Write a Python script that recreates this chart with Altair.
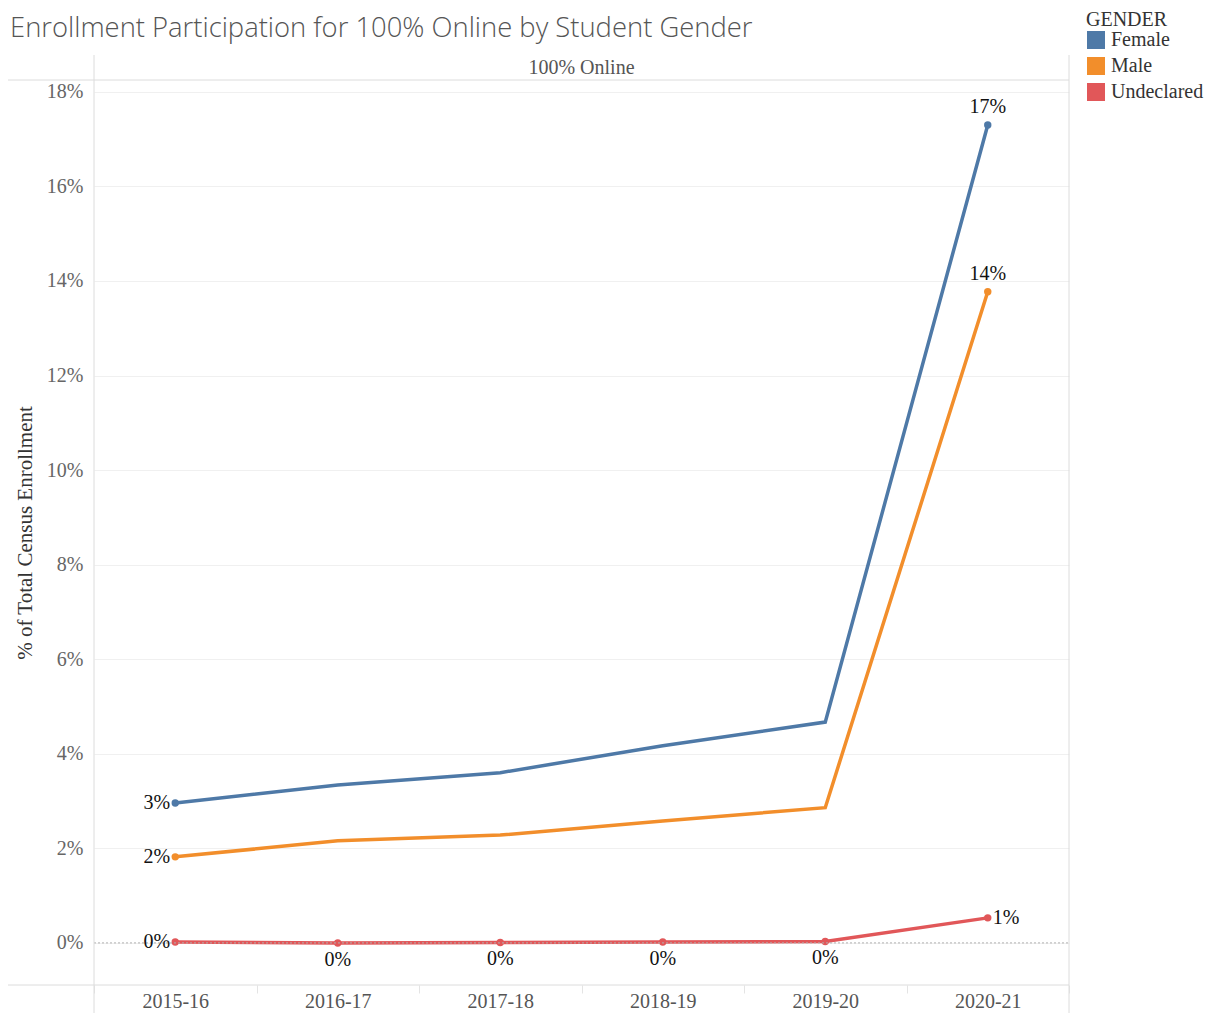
import altair as alt
import pandas as pd

# ---- data ----
years = ["2015-16", "2016-17", "2017-18", "2018-19", "2019-20", "2020-21"]
genders = ["Female", "Male", "Undeclared"]
female = [0.0296, 0.0334, 0.0360, 0.0417, 0.0467, 0.1730]
male = [0.0182, 0.0216, 0.0228, 0.0258, 0.0286, 0.1377]
undeclared = [0.0002, 0.0000, 0.0001, 0.0002, 0.0003, 0.0053]
colors = ["#4e79a7", "#f28e2b", "#e15759"]
panel = ["100% Online"]

# which points carry a mark label, and on which side
label_gender = ["Female", "Female", "Male", "Male", "Undeclared", "Undeclared",
                "Undeclared", "Undeclared", "Undeclared", "Undeclared"]
label_year = ["2015-16", "2020-21", "2015-16", "2020-21", "2015-16", "2016-17",
              "2017-18", "2018-19", "2019-20", "2020-21"]
label_side = ["left", "top", "left", "top", "left", "below", "below", "below",
              "below", "right"]

rows = []
for g, series in zip(genders, [female, male, undeclared]):
    for y, v in zip(years, series):
        rows.append({"Year": y, "Gender": g, "Value": v})
df = pd.DataFrame(rows)

lab = pd.DataFrame({"Gender": label_gender, "Year": label_year, "Side": label_side})
lab = lab.merge(df, on=["Gender", "Year"])

SERIF = "Liberation Serif"
W, H = 975, 905

xscale = alt.Scale(type="band", domain=years, paddingInner=0, paddingOuter=0)
yscale = alt.Scale(domain=[-0.0089, 0.1825], nice=False, zero=False)
cscale = alt.Scale(domain=genders, range=colors)

x_enc = alt.X("Year:N", scale=xscale, sort=years,
              axis=alt.Axis(title=None, labelAngle=0, domain=False, ticks=True,
                            tickBand="extent", tickSize=8, tickColor="#e4e4e4",
                            labelPadding=-2, labelFont=SERIF, labelFontSize=20,
                            labelColor="#555", grid=False))
y_enc = alt.Y("Value:Q", scale=yscale,
              axis=alt.Axis(title="% of Total Census Enrollment", format=".0%",
                            values=[0, 0.02, 0.04, 0.06, 0.08, 0.10, 0.12, 0.14, 0.16, 0.18],
                            domain=False, ticks=False, grid=True, gridColor="#f0f0f0",
                            labelPadding=11, labelFont=SERIF, labelFontSize=20,
                            labelColor="#666", titleFont=SERIF, titleFontSize=21,
                            titleFontWeight="normal", titleColor="#333",
                            titleX=-69, titleY=H / 2, titleAngle=-90,
                            titleAlign="center", titleBaseline="middle"))

legend = alt.Legend(title="GENDER", orient="none", legendX=992, legendY=-70,
                    symbolType="square", symbolSize=324, symbolStrokeWidth=0,
                    symbolOpacity=1, titleFont=SERIF, titleFontSize=20,
                    titleFontWeight="normal", titleColor="#333", titlePadding=0,
                    labelFont=SERIF, labelFontSize=20, labelColor="#333",
                    rowPadding=6, labelOffset=5)

points = alt.Chart(lab).mark_point(filled=True, size=55, opacity=1).encode(
    x=x_enc, y=y_enc,
    color=alt.Color("Gender:N", scale=cscale, legend=legend),
)

lines = alt.Chart(df).mark_line(strokeWidth=3.5).encode(
    x=alt.X("Year:N", scale=xscale, sort=years),
    y=alt.Y("Value:Q", scale=yscale),
    color=alt.Color("Gender:N", scale=cscale, legend=legend),
)

def text_layer(side, **kw):
    return alt.Chart(lab).transform_filter(alt.datum.Side == side).mark_text(
        font=SERIF, fontSize=20, color="#111", **kw
    ).encode(
        x=alt.X("Year:N", scale=xscale, sort=years),
        y=alt.Y("Value:Q", scale=yscale),
        text=alt.Text("Value:Q", format=".0%"),
    )

t_left = text_layer("left", align="right", baseline="middle", dx=-5)
t_top = text_layer("top", align="center", baseline="middle", dy=-18)
t_right = text_layer("right", align="left", baseline="middle", dx=5)
t_below = text_layer("below", align="center", baseline="middle", dy=17)

zero = alt.Chart(pd.DataFrame({"v": [0.0]})).mark_rule(
    color="#b0b0b0", strokeDash=[2, 2], strokeWidth=1
).encode(y=alt.Y("v:Q", scale=yscale), x=alt.value(0), x2=alt.value(W))

frame_col = "#dcdcdc"
hline_top = alt.Chart(pd.DataFrame({"a": [0]})).mark_rule(color=frame_col).encode(
    x=alt.value(-91), x2=alt.value(W), y=alt.value(0))
hline_bot = alt.Chart(pd.DataFrame({"a": [0]})).mark_rule(color=frame_col).encode(
    x=alt.value(-91), x2=alt.value(W), y=alt.value(H))
vline_left = alt.Chart(pd.DataFrame({"a": [0]})).mark_rule(color=frame_col).encode(
    x=alt.value(0), y=alt.value(-25), y2=alt.value(H + 30))
vline_right = alt.Chart(pd.DataFrame({"a": [0]})).mark_rule(color=frame_col).encode(
    x=alt.value(W), y=alt.value(-25), y2=alt.value(H + 30))

header = alt.Chart(pd.DataFrame({"p": panel})).mark_text(
    font=SERIF, fontSize=20, color="#555", align="center", baseline="middle"
).encode(x=alt.value(W / 2), y=alt.value(-12), text="p:N")

chart = alt.layer(
    points, lines, zero, hline_top, hline_bot, vline_left, vline_right, header,
    t_left, t_top, t_right, t_below,
).properties(
    width=W, height=H,
    autosize=alt.AutoSizeParams(type="none"),
    padding={"left": 86, "top": 72, "right": 138, "bottom": 28},
    title=alt.TitleParams(
        "Enrollment Participation for 100% Online by Student Gender",
        anchor="start", frame="group", orient="top", dx=-84, offset=0, dy=54,
        baseline="alphabetic",
        font="Open Sans", fontSize=27.4, fontWeight=300, color="#555",
    ),
).configure_view(stroke=None)

chart.save("out.html", embed_options={"renderer": "svg", "actions": False})
